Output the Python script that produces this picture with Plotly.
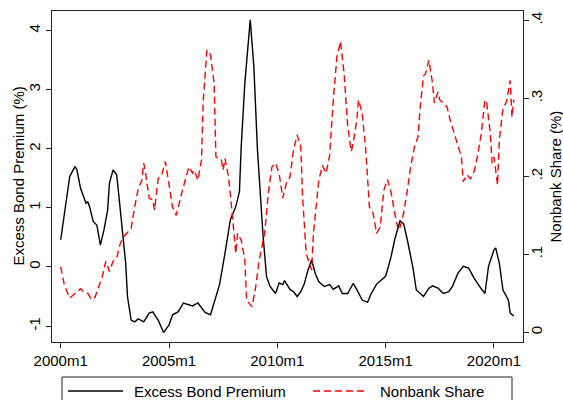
import plotly.graph_objects as go

# Months counted from 2000m1 (Stata %tm style)
ebp_month = [0, 2, 5, 8, 9, 11, 14, 15, 16, 18, 20, 22, 24, 26, 27, 29, 31, 32, 34, 36,
             37, 39, 41, 43, 46, 49, 51, 54, 57, 60, 62, 65, 68, 73, 76, 80, 83, 86, 88, 91,
             94, 97, 99, 100, 102, 105, 107, 109, 112, 114, 116, 119, 121, 123, 124, 127, 129, 131, 133, 135,
             137, 139, 141, 143, 146, 149, 151, 154, 156, 159, 162, 164, 167, 170, 172, 175, 178, 180, 183, 185,
             188, 190, 192, 195, 197, 201, 204, 206, 209, 212, 215, 217, 220, 223, 226, 229, 232, 235, 237, 240,
             241, 243, 245, 248, 249, 251]
ebp_value = [0.46, 0.91, 1.53, 1.70, 1.64, 1.33, 1.08, 1.10, 1.02, 0.77, 0.71, 0.37, 0.63, 0.96, 1.42, 1.64, 1.56, 1.27, 0.68, 0.06,
             -0.50, -0.90, -0.93, -0.88, -0.93, -0.78, -0.76, -0.90, -1.11, -0.98, -0.81, -0.76, -0.61, -0.66, -0.61, -0.77, -0.81, -0.50, -0.30, 0.23,
             0.80, 1.02, 1.27, 2.04, 3.11, 4.18, 3.39, 1.98, 0.57, -0.16, -0.33, -0.45, -0.27, -0.30, -0.23, -0.38, -0.42, -0.50, -0.42, -0.28,
             -0.05, 0.12, -0.11, -0.25, -0.33, -0.30, -0.38, -0.32, -0.45, -0.45, -0.28, -0.38, -0.56, -0.60, -0.45, -0.29, -0.21, -0.16, 0.17, 0.46,
             0.78, 0.73, 0.46, 0.01, -0.39, -0.50, -0.36, -0.32, -0.36, -0.45, -0.42, -0.33, -0.11, 0.01, -0.02, -0.19, -0.33, -0.45, 0.01, 0.29,
             0.32, 0.06, -0.39, -0.56, -0.78, -0.83]

nb_month = [0, 2, 5, 7, 9, 11, 13, 15, 17, 19, 21, 23, 25, 27, 29, 31, 33, 35, 37, 39,
            41, 43, 45, 46, 47, 49, 51, 52, 54, 56, 58, 60, 62, 64, 66, 68, 71, 73, 74, 76,
            78, 79, 81, 83, 85, 86, 89, 90, 91, 93, 95, 97, 98, 100, 102, 103, 106, 108, 110, 113,
            115, 117, 119, 121, 123, 125, 127, 129, 131, 133, 134, 136, 139, 140, 143, 145, 147, 149, 151, 153,
            155, 157, 159, 161, 162, 164, 165, 167, 169, 171, 173, 175, 177, 179, 181, 183, 185, 187, 188, 190,
            192, 194, 196, 198, 199, 201, 202, 204, 206, 207, 209, 210, 212, 214, 216, 218, 220, 222, 223, 225,
            227, 229, 231, 233, 235, 236, 238, 239, 240, 242, 243, 245, 247, 249, 250, 251]
nb_value = [0.084, 0.061, 0.044, 0.048, 0.051, 0.056, 0.051, 0.050, 0.042, 0.045, 0.058, 0.071, 0.091, 0.078, 0.091, 0.095, 0.114, 0.123, 0.128, 0.133,
            0.161, 0.185, 0.195, 0.217, 0.204, 0.172, 0.170, 0.157, 0.197, 0.202, 0.219, 0.187, 0.160, 0.150, 0.170, 0.187, 0.212, 0.204, 0.208, 0.195,
            0.221, 0.298, 0.362, 0.356, 0.319, 0.225, 0.221, 0.208, 0.223, 0.199, 0.153, 0.101, 0.127, 0.118, 0.093, 0.041, 0.033, 0.058, 0.093, 0.127,
            0.178, 0.212, 0.217, 0.204, 0.172, 0.191, 0.199, 0.234, 0.253, 0.238, 0.174, 0.101, 0.080, 0.127, 0.195, 0.214, 0.204, 0.227, 0.298, 0.353,
            0.373, 0.332, 0.264, 0.232, 0.242, 0.272, 0.298, 0.281, 0.234, 0.161, 0.153, 0.127, 0.135, 0.182, 0.196, 0.180, 0.153, 0.131, 0.135, 0.153,
            0.182, 0.214, 0.238, 0.251, 0.285, 0.329, 0.331, 0.349, 0.319, 0.294, 0.308, 0.298, 0.294, 0.289, 0.270, 0.255, 0.242, 0.225, 0.193, 0.202,
            0.197, 0.206, 0.227, 0.255, 0.298, 0.294, 0.255, 0.217, 0.225, 0.189, 0.247, 0.287, 0.296, 0.323, 0.276, 0.298]

x_tick_months = [0, 60, 120, 180, 240]
x_tick_labels = ["2000m1", "2005m1", "2010m1", "2015m1", "2020m1"]
left_tick_vals = [-1, 0, 1, 2, 3, 4]
left_tick_labels = ["-1", "0", "1", "2", "3", "4"]
right_tick_vals = [0, 0.1, 0.2, 0.3, 0.4]
right_tick_labels = ["0", ".1", ".2", ".3", ".4"]
series_names = ["Excess Bond Premium", "Nonbank Share"]
axis_titles = ["Excess Bond Premium (%)", "Nonbank Share (%)"]
series_colors = ["black", "#ff0000"]
series_dashes = ["solid", "7px,4px"]

FONT = "Liberation Sans, Arial, sans-serif"
LINE_W = 1.4

fig = go.Figure()
fig.add_trace(go.Scatter(x=ebp_month, y=ebp_value, mode="lines", name=series_names[0],
                         line=dict(color=series_colors[0], width=LINE_W, dash=series_dashes[0]), yaxis="y"))
fig.add_trace(go.Scatter(x=nb_month, y=nb_value, mode="lines", name=series_names[1],
                         line=dict(color=series_colors[1], width=LINE_W, dash=series_dashes[1]), yaxis="y2"))

axis_common = dict(showgrid=False, zeroline=False, showline=True, linecolor="#222222", linewidth=1,
                   ticks="outside", ticklen=5, tickcolor="#222222", tickfont=dict(size=15, color="black"))

# Legend drawn below the plot (Stata-style boxed legend, partly cut by the page edge)
PL, PT, PW, PH = 52, 11, 471, 331  # plot area in px


def px_x(px):
    return (px - PL) / PW


def px_y(py):
    return (PT + PH - py) / PH


shapes = [
    dict(type="rect", xref="paper", yref="paper", x0=px_x(62), x1=px_x(512), y0=px_y(377), y1=px_y(412),
         line=dict(color="#222222", width=1), fillcolor="white", layer="above"),
]
annotations = []
legend_line_x = [(68, 123), (313, 368)]
legend_text_x = [132, 378]
for i in range(2):
    shapes.append(dict(type="line", xref="paper", yref="paper",
                       x0=px_x(legend_line_x[i][0]), x1=px_x(legend_line_x[i][1]),
                       y0=px_y(391), y1=px_y(391),
                       line=dict(color=series_colors[i], width=LINE_W, dash=series_dashes[i])))
    annotations.append(dict(xref="paper", yref="paper", x=px_x(legend_text_x[i]), y=px_y(391),
                            xanchor="left", yanchor="middle", showarrow=False, text=series_names[i],
                            font=dict(size=15, color="black")))

# axis titles (rotated, reading bottom-to-top)
for title, cx in zip(axis_titles, [18, 555]):
    annotations.append(dict(xref="paper", yref="paper", x=px_x(cx), y=0.5, xanchor="center", yanchor="middle",
                            showarrow=False, textangle=-90, text=title,
                            font=dict(size=15, color="black")))

fig.update_layout(
    width=563, height=400,
    margin=dict(l=PL, r=563 - PL - PW, t=PT, b=400 - PT - PH, autoexpand=False),
    paper_bgcolor="white", plot_bgcolor="white",
    font=dict(family=FONT, size=15, color="black"),
    xaxis=dict(range=[-4.82, 256.1], tickvals=x_tick_months, ticktext=x_tick_labels,
               mirror=True, **axis_common),
    yaxis=dict(range=[-1.27, 4.33], tickvals=left_tick_vals, ticktext=left_tick_labels, tickangle=-90,
               **axis_common),
    yaxis2=dict(range=[-0.0124, 0.412], tickvals=right_tick_vals, ticktext=right_tick_labels, tickangle=-90,
                overlaying="y", side="right", ticklabelstandoff=-5, **axis_common),
    shapes=shapes,
    annotations=annotations,
    showlegend=False,
)

# remove the browser's default page margin so the 563x400 figure fills the window exactly
fig.write_html("out.html", config={"displayModeBar": False},
               post_script="document.body.style.margin='0';document.body.style.padding='0';"
                           "document.body.style.overflow='hidden';")
